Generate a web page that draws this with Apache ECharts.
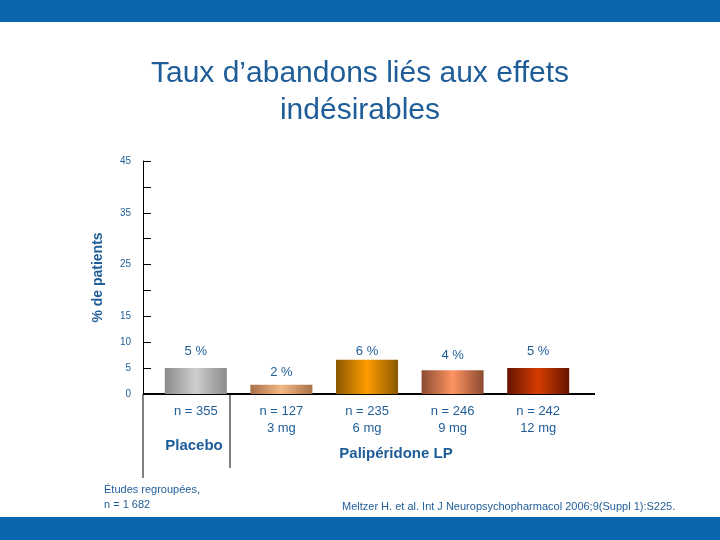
<!DOCTYPE html>
<html><head><meta charset="utf-8">
<script src="https://cdn.jsdelivr.net/npm/echarts@6/dist/echarts.min.js"></script>
<style>body{margin:0}#c{width:720px;height:540px}</style></head>
<body><div id="c"></div>
<script>
const categories = ['n = 355', 'n = 127\n3 mg', 'n = 235\n6 mg', 'n = 246\n9 mg', 'n = 242\n12 mg'];
const values = [5, 1.8, 6.6, 4.6, 5];
const valueLabels = ['5 %', '2 %', '6 %', '4 %', '5 %'];
const yTickLabels = {0:'0',5:'5',10:'10',15:'15',25:'25',35:'35',45:'45'};
const gradients = [
  ['#8a8a8a','#cfcfcf'], ['#a87048','#f3b885'], ['#8a5800','#ff9c00'],
  ['#8a4a30','#ff9462'], ['#641500','#d63c00']
];
const blue = '#1f5d98';
function grad(c){return new echarts.graphic.LinearGradient(0,0,1,0,[{offset:0,color:c[0]},{offset:0.5,color:c[1]},{offset:1,color:c[0]}]);}
const chart = echarts.init(document.getElementById('c'));
chart.setOption({
  backgroundColor:'#ffffff',
  grid:{left:153,right:139,top:161,bottom:146},
  xAxis:{type:'category',data:categories,
    axisLine:{show:false},axisTick:{show:false},
    axisLabel:{color:blue,fontSize:13,fontFamily:'Arial',lineHeight:17,margin:9}},
  yAxis:{type:'value',min:0,max:45,interval:5,offset:10,
    name:'% de patients',nameLocation:'middle',nameGap:38,nameRotate:90,
    nameTextStyle:{color:blue,fontSize:14,fontWeight:'bold',fontFamily:'Arial'},
    axisLine:{show:true,lineStyle:{color:'#000'}},axisTick:{show:true,inside:true,length:8,lineStyle:{color:'#000'}},
    splitLine:{show:false},
    axisLabel:{color:blue,fontSize:10,fontFamily:'Arial',margin:12,formatter:v=>yTickLabels[v]||''}},
  series:[{type:'bar',barWidth:62,
    data:values.map((v,i)=>({value:v,itemStyle:{color:grad(gradients[i])},
      label:{show:true,position:'top',distance:[10,6,2,8,10][i],formatter:valueLabels[i],color:blue,fontSize:13,fontFamily:'Arial'}}))}],
  graphic:[
    {type:'rect',shape:{x:0,y:0,width:720,height:22},style:{fill:'#0a64ae'}},
    {type:'rect',shape:{x:0,y:517,width:720,height:23},style:{fill:'#0a64ae'}},
    {type:'text',x:360,y:55,style:{text:'Taux d’abandons liés aux effets\nindésirables',fill:blue,font:'30px Arial',align:'center',lineHeight:37}},
    {type:'line',shape:{x1:143,y1:394,x2:595,y2:394},style:{stroke:'#000',lineWidth:2}},
    {type:'line',shape:{x1:143,y1:394,x2:143,y2:478},style:{stroke:'#000',lineWidth:1}},
    {type:'line',shape:{x1:230,y1:394,x2:230,y2:468},style:{stroke:'#000',lineWidth:1}},
    {type:'text',x:194,y:438,style:{text:'Placebo',fill:blue,font:'bold 15px Arial',align:'center'}},
    {type:'text',x:396,y:446,style:{text:'Palipéridone LP',fill:blue,font:'bold 15px Arial',align:'center'}},
    {type:'text',x:104,y:482,style:{text:'Études regroupées,\nn = 1 682',fill:blue,font:'11px Arial',lineHeight:15}},
    {type:'text',x:342,y:501,style:{text:'Meltzer H. et al. Int J Neuropsychopharmacol 2006;9(Suppl 1):S225.',fill:blue,font:'11px Arial'}}
  ]
});
</script></body></html>
